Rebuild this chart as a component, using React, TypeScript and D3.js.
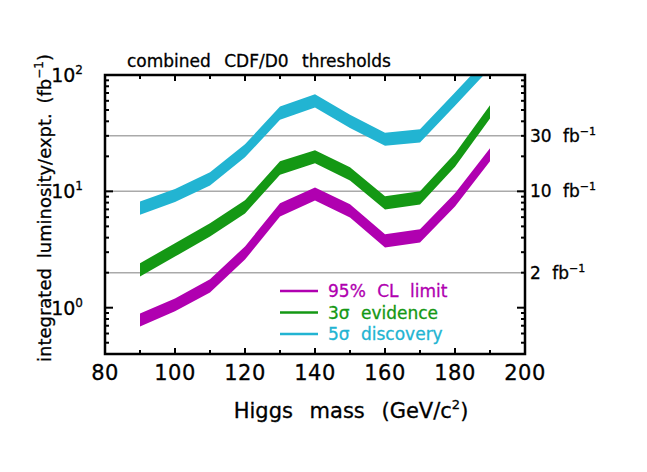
import React from "react";
import * as d3 from "d3";

const masses = [90, 100, 110, 120, 130, 140, 150, 160, 170, 180, 190];
// 95% CL limit band
const clLow = [0.69, 0.93, 1.35, 2.59, 6.07, 8.33, 5.96, 3.29, 3.63, 7.4, 18.1];
const clHigh = [0.89, 1.2, 1.76, 3.36, 7.89, 10.8, 7.74, 4.28, 4.72, 9.62, 23.5];
// 3 sigma evidence band
const evLow = [1.85, 2.75, 4.09, 6.45, 13.9, 17.4, 12.4, 6.97, 7.7, 16.3, 42.3];
const evHigh = [2.41, 3.58, 5.31, 8.38, 18.1, 22.6, 16.1, 9.06, 10.0, 21.2, 55];
// 5 sigma discovery band
const dsLow = [6.3, 8.1, 11.2, 19.6, 41.2, 52.6, 35.1, 24.6, 26.3, 54.4, 114];
const dsHigh = [8.2, 10.5, 14.6, 25.4, 53.6, 68.4, 45.6, 31.9, 34.2, 70.7, 148];

const xTicks = [80, 100, 120, 140, 160, 180, 200];
const yDecades = [1, 10, 100];
const refLines = [30, 10, 2];
const legendLabels = ["95% CL limit", "3σ evidence", "5σ discovery"];

const W = 647, H = 472;
const L = 105, R = 525, T = 75, B = 354;
const FONT = "'DejaVu Sans', sans-serif";

export default function App() {
  const x = d3.scaleLinear().domain([80, 200]).range([L, R]);
  const y = d3.scaleLog().domain([0.4, 100]).range([B, T]);

  const area = (lo: number[], hi: number[]) =>
    d3
      .area<number>()
      .x((_, i) => x(masses[i]))
      .y0((_, i) => y(lo[i]))
      .y1((_, i) => y(hi[i]))(masses) || "";

  const series = [
    { lo: clLow, hi: clHigh, color: "#b000b0", label: legendLabels[0] },
    { lo: evLow, hi: evHigh, color: "#149814", label: legendLabels[1] },
    { lo: dsLow, hi: dsHigh, color: "#22b4d2", label: legendLabels[2] },
  ];

  const logTicks: { v: number; major: boolean }[] = [];
  for (let e = -1; e <= 1; e++) {
    for (let m = 1; m <= 9; m++) {
      const v = m * Math.pow(10, e);
      if (v >= 0.4 && v <= 100) logTicks.push({ v, major: m === 1 });
    }
  }
  logTicks.push({ v: 100, major: true });

  const xMinor = d3.range(80, 201, 10);
  const txt = { fontFamily: FONT, stroke: "currentColor", strokeWidth: 0.3 } as const;

  return (
    <svg width={W} height={H} style={{ display: "block", position: "absolute", left: 0, top: 0 }}>
      <rect width={W} height={H} fill="white" />
      <defs>
        <clipPath id="plotclip">
          <rect x={L} y={T} width={R - L} height={B - T} />
        </clipPath>
      </defs>
      {refLines.map((v) => (
        <line key={v} x1={L} x2={R} y1={y(v)} y2={y(v)} stroke="#aaaaaa" strokeWidth={1.5} />
      ))}
      <g clipPath="url(#plotclip)">
        {series.map((s, i) => (
          <path key={i} d={area(s.lo, s.hi)} fill={s.color} />
        ))}
      </g>
      <rect x={L} y={T} width={R - L} height={B - T} fill="none" stroke="black" strokeWidth={2.5} />
      {xMinor.map((v) => {
        const len = v % 20 === 0 ? 6 : 4;
        return (
          <g key={v}>
            <line x1={x(v)} x2={x(v)} y1={B} y2={B - len} stroke="black" strokeWidth={2} />
            <line x1={x(v)} x2={x(v)} y1={T} y2={T + len} stroke="black" strokeWidth={2} />
          </g>
        );
      })}
      {logTicks.map((t, i) => {
        const len = t.major ? 8 : 4;
        return (
          <g key={i}>
            <line x1={L} x2={L + len} y1={y(t.v)} y2={y(t.v)} stroke="black" strokeWidth={2} />
            <line x1={R} x2={R - len} y1={y(t.v)} y2={y(t.v)} stroke="black" strokeWidth={2} />
          </g>
        );
      })}
      <g color="black">
        {xTicks.map((v) => (
          <text key={v} x={x(v)} y={380} textAnchor="middle" fontSize={21} {...txt} style={{ letterSpacing: "0.5px" }}>
            {v}
          </text>
        ))}
        {yDecades.map((v) => (
          <text key={v} x={83} y={y(v) + 7} textAnchor="end" fontSize={19} {...txt}>
            10
            <tspan fontSize={12} dy={-8}>{Math.round(Math.log10(v))}</tspan>
          </text>
        ))}
        {refLines.map((v) => (
          <text key={v} x={530} y={y(v) + 6} fontSize={17} {...txt} style={{ wordSpacing: "6px" }}>
            {v} fb
            <tspan fontSize={11} dy={-7}>−1</tspan>
          </text>
        ))}
        <text x={127} y={67} fontSize={17} {...txt} style={{ wordSpacing: "8px" }}>
          combined CDF/D0 thresholds
        </text>
        <text x={351} y={418} textAnchor="middle" fontSize={21} {...txt} style={{ wordSpacing: "10px" }}>
          Higgs mass (GeV/c
          <tspan fontSize={13} dy={-9}>2</tspan>
          <tspan dy={9}>)</tspan>
        </text>
        <text
          transform={`translate(51,208) rotate(-90)`}
          textAnchor="middle"
          fontSize={18}
          {...txt}
          style={{ wordSpacing: "4px" }}
        >
          integrated luminosity/expt. (fb
          <tspan fontSize={12} dy={-8}>−1</tspan>
          <tspan dy={8}>)</tspan>
        </text>
      </g>
      {series.map((s, i) => (
        <g key={i} color={s.color}>
          <line x1={280} x2={318} y1={291 + i * 21.5} y2={291 + i * 21.5} stroke={s.color} strokeWidth={2.5} />
          <text x={328} y={297 + i * 21.5} fill={s.color} fontSize={17} {...txt} style={{ wordSpacing: "6px" }}>
            {s.label}
          </text>
        </g>
      ))}
    </svg>
  );
}
